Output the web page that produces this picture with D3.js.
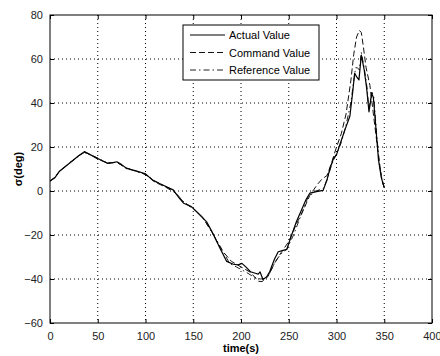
<!DOCTYPE html>
<html>
<head>
<meta charset="utf-8">
<script src="https://cdn.jsdelivr.net/npm/d3@7"></script>
<style>
  html, body { margin: 0; padding: 0; background: #fff; }
  svg { display: block; }
  text { font-family: "Liberation Sans", Arial, sans-serif; }
</style>
</head>
<body>
<svg id="chart" width="440" height="356"></svg>
<script>
// Sideslip angle tracking: actual, commanded and reference sigma over time
const actualT = [0,5,10,20,30,36,40,50,60,65,70,75,80,90,100,108,118,129,135,140,148,155,164,169,178,185,192,197,201,205,210,215,218,220,223,227,230,235,239,244,248,253,258,262,268,272,279,286,290,293,297,300,304,309,314,317,319,321,323.5,326,329,331.5,334,336.8,338.6,341,344,347,350];
const actualV = [4.5,6,9,12.5,16,17.9,17,14.8,12.6,12.8,13.3,12,10.3,9.2,7.8,4.8,2.7,0.5,-3,-5.6,-7.1,-10,-14,-18,-26,-32,-33.3,-33.6,-32.9,-34.5,-36.7,-37.4,-37.8,-36.8,-40.2,-39,-36.7,-31,-27.6,-27,-26.5,-20,-14,-10,-4,-1,-0.3,0.3,5,10,15,16.4,21.7,28,34,45,53.5,52,50.5,61.8,55,47,36,44.4,42.5,30,14,6,1.5];

const commandT = [0,5,10,20,30,36,40,50,60,70,80,90,100,110,120,130,140,150,160,170,180,190,200,210,218,222,228,235,242,250,258,265,272,280,285,290,295,300,305,310,315,318,321,324,326,328,331,335,340,344,347,350];
const commandV = [4.5,6.2,9,12.6,16,17.6,17,14.5,12.8,13,10.5,9,7.5,4,2,-0.5,-5,-8,-12,-19,-27,-32,-34.5,-37,-41,-41.2,-39,-33,-28,-23,-15,-9,-2,3,5.5,7,13,20,26,35,50,62,70,73,72,66,56,48,30,16,6.5,1.5];

const referenceT = [0,5,10,20,30,36,40,50,60,70,80,90,100,110,120,130,140,150,160,170,180,188,195,205,213,220,225,230,236,242,248,255,262,270,278,286,290,295,300,305,310,315,318,320,322,324,326,329,332,334,337,339,342,345,348,350];
const referenceV = [4.5,6,9,12.5,16,17.5,16.8,15,12.7,13.1,10.2,9,7.6,4.5,2.3,0,-5,-8,-12.2,-19,-26.5,-32.9,-34.5,-36.8,-39,-40,-39.8,-37.4,-32,-28.5,-26.5,-20,-12,-3,0,1,5,12,17,22,30,40,50,56,56,55,63,56,47,37,45,43,26,12,4,1.5];

const xTicks = [0,50,100,150,200,250,300,350,400];
const yTicks = [-60,-40,-20,0,20,40,60,80];
const seriesNames = ["Actual Value","Command Value","Reference Value"];

const svg = d3.select("#chart");
const m = {left: 50, right: 432, top: 15, bottom: 323};

const x = d3.scaleLinear().domain([0,400]).range([m.left, m.right]);
const y = d3.scaleLinear().domain([-60,80]).range([m.bottom, m.top]);

// dotted grid
const grid = svg.append("g");
grid.selectAll("line.gx").data(xTicks.slice(1,-1)).join("line")
  .attr("x1", d => x(d)).attr("x2", d => x(d))
  .attr("y1", m.top).attr("y2", m.bottom)
  .attr("stroke", "#000").attr("stroke-width", 1).attr("stroke-dasharray", "1,3");
grid.selectAll("line.gy").data(yTicks.slice(1,-1)).join("line")
  .attr("x1", m.left).attr("x2", m.right)
  .attr("y1", d => y(d)).attr("y2", d => y(d))
  .attr("stroke", "#000").attr("stroke-width", 1).attr("stroke-dasharray", "1,3");

// axes with inward ticks
const axB = d3.axisBottom(x).tickValues(xTicks).tickSize(-4).tickPadding(9).tickFormat(d3.format("d"));
const axL = d3.axisLeft(y).tickValues(yTicks).tickSize(-4).tickPadding(7).tickFormat(d3.format("d"));
const axT = d3.axisTop(x).tickValues(xTicks).tickSize(-4).tickFormat("");
const axR = d3.axisRight(y).tickValues(yTicks).tickSize(-4).tickFormat("");

function styleAxis(g) {
  g.select(".domain").remove();
  g.selectAll("line").attr("stroke", "#000");
  g.selectAll("text").attr("font-size", 11).attr("fill", "#222")
   .attr("font-family", "'Liberation Sans', Arial, sans-serif");
}
const gB = svg.append("g").attr("transform", `translate(0,${m.bottom})`).call(axB).call(styleAxis);
// keep the last label inside the window
gB.selectAll(".tick text").filter(d => d === 400).attr("text-anchor", "end").attr("dx", 9);
svg.append("g").attr("transform", `translate(${m.left},0)`).call(axL).call(styleAxis);
svg.append("g").attr("transform", `translate(0,${m.top})`).call(axT).call(styleAxis);
svg.append("g").attr("transform", `translate(${m.right},0)`).call(axR).call(styleAxis);

// plot box
svg.append("rect")
  .attr("x", m.left).attr("y", m.top)
  .attr("width", m.right - m.left).attr("height", m.bottom - m.top)
  .attr("fill", "none").attr("stroke", "#000").attr("stroke-width", 1);

// series lines
const line = d3.line().x(d => x(d[0])).y(d => y(d[1]));
const styles = [
  {dash: null, color: "#000", width: 1.2},
  {dash: "6,3", color: "#111", width: 1},
  {dash: "6,3,1.5,3", color: "#222", width: 1}
];
const series = [
  d3.zip(referenceT, referenceV),
  d3.zip(commandT, commandV),
  d3.zip(actualT, actualV)
];
const order = [2,1,0];
series.forEach((pts, i) => {
  const s = styles[order[i]];
  svg.append("path").datum(pts)
    .attr("d", line).attr("fill", "none")
    .attr("stroke", s.color).attr("stroke-width", s.width)
    .attr("stroke-dasharray", s.dash)
    .attr("stroke-linejoin", "round");
});

// axis titles
svg.append("text")
  .attr("x", 241).attr("y", 352)
  .attr("text-anchor", "middle").attr("font-size", 11).attr("font-weight", "bold")
  .text("time(s)");
svg.append("text")
  .attr("transform", "translate(22,169) rotate(-90)")
  .attr("text-anchor", "middle").attr("font-size", 11).attr("font-weight", "bold")
  .text("σ(deg)");

// legend
const lg = svg.append("g");
lg.append("rect").attr("x", 183).attr("y", 25).attr("width", 136).attr("height", 55)
  .attr("fill", "#fff").attr("stroke", "#000").attr("stroke-width", 1);
const rowY = [35, 52.5, 70];
seriesNames.forEach((name, i) => {
  const s = styles[i];
  lg.append("line").attr("x1", 190).attr("x2", 225)
    .attr("y1", rowY[i]).attr("y2", rowY[i])
    .attr("stroke", s.color).attr("stroke-width", s.width)
    .attr("stroke-dasharray", s.dash);
  lg.append("text").attr("x", 229).attr("y", rowY[i] + 4)
    .attr("font-size", 11).attr("fill", "#000").text(name);
});
</script>
</body>
</html>
